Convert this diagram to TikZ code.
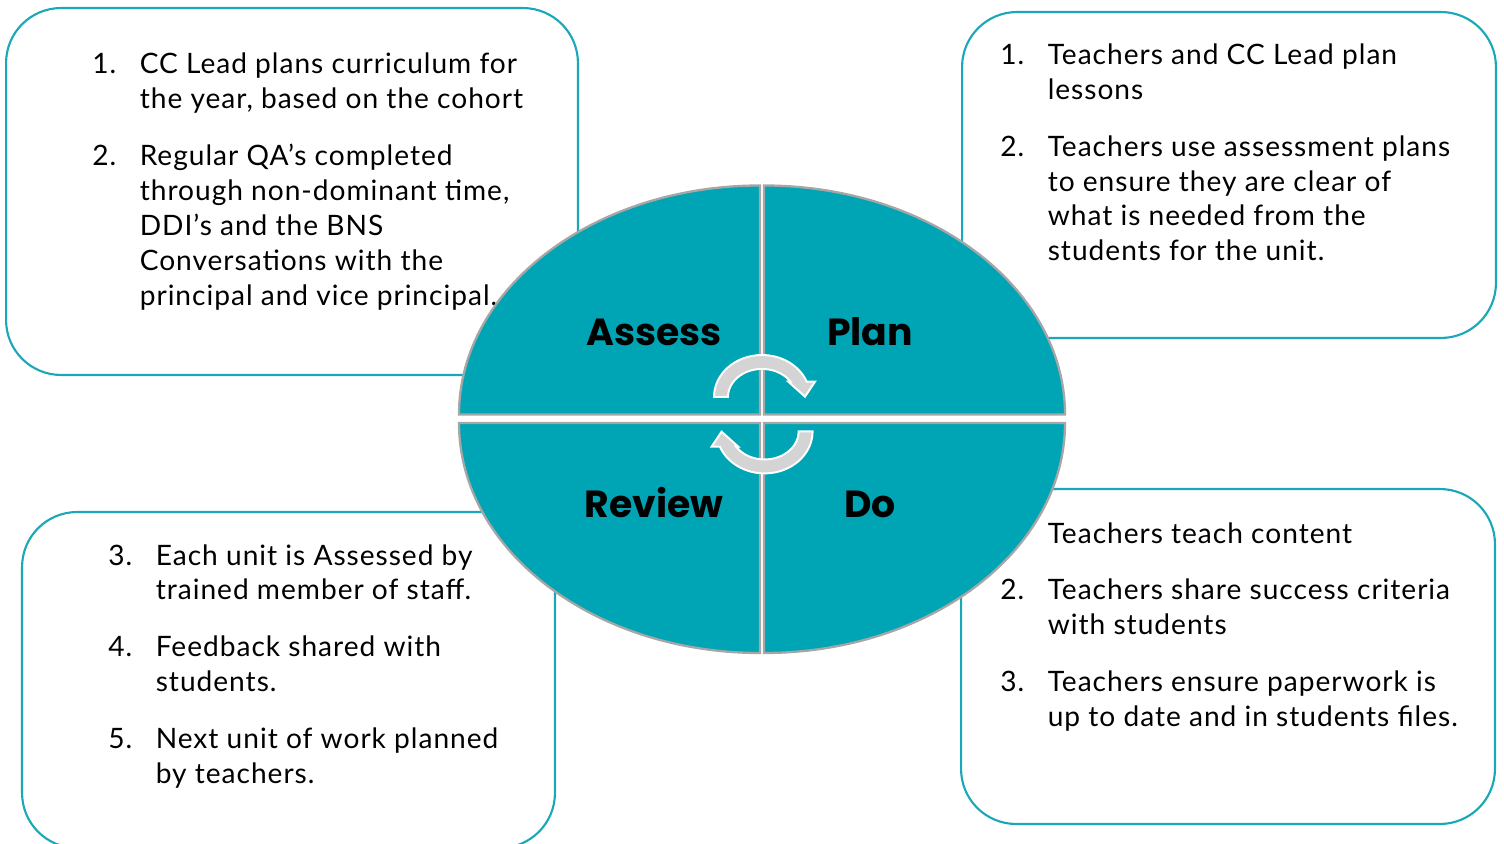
\documentclass[tikz,border=0pt]{standalone}
\usepackage{fontspec}
\setmainfont{Lato}[LetterSpace=3.5]
\newfontfamily\labelfont{Poppins}
\usepackage{tikz}
\usetikzlibrary{calc}
\definecolor{tealfill}{HTML}{00A5B5}
\definecolor{tealline}{HTML}{1AA8B9}
\definecolor{rimgray}{HTML}{A6A6A6}
\definecolor{arrowgray}{HTML}{D4D4D4}
\tikzstyle{infobox} = [rectangle, rounded corners=1.1cm, draw=tealline, line width=1.2pt, fill=white]
\tikzstyle{steps} = [anchor=base west, inner sep=0pt, font=\fontsize{16}{19.84}\selectfont]
\tikzstyle{quarter} = [fill=tealfill, draw=rimgray, line width=1.3pt]
\tikzstyle{stage} = [anchor=base, inner sep=0pt, font=\labelfont\bfseries\fontsize{21.5}{24}\selectfont]
\tikzstyle{cyclearrow} = [fill=arrowgray, draw=white, line width=1.1pt, line join=miter]
\newcommand{\gap}{\\[12.5pt]}

\begin{document}
\begin{tikzpicture}[x=0.02cm, y=-0.02cm]
    \useasboundingbox (0,0) rectangle (1504,844);

    % text boxes
    \node[infobox, minimum width=11.44cm, minimum height=7.34cm] (assessBox) at (292,191.5) {};
    \node[infobox, minimum width=10.68cm, minimum height=6.52cm] (planBox) at (1229,175) {};
    \node[infobox, minimum width=10.66cm, minimum height=6.72cm] (reviewBox) at (288.5,680) {};
    \node[infobox, minimum width=10.68cm, minimum height=6.70cm] (doBox) at (1228,656.5) {};

    \node[steps] (assessText) at (92,74) {\begin{tabular}[t]{@{}p{27pt}@{}l@{}}
        1. & CC Lead plans curriculum for\\
           & the year, based on the cohort\gap
        2. & Regular QA’s completed\\
           & through non-dominant time,\\
           & DDI’s and the BNS\\
           & Conversations with the\\
           & principal and vice principal.
    \end{tabular}};
    \node[steps] (planText) at (1000,64.5) {\begin{tabular}[t]{@{}p{27pt}@{}l@{}}
        1. & Teachers and CC Lead plan\\
           & lessons\gap
        2. & Teachers use assessment plans\\
           & to ensure they are clear of\\
           & what is needed from the\\
           & students for the unit.
    \end{tabular}};
    \node[steps] (reviewText) at (108,565) {\begin{tabular}[t]{@{}p{27pt}@{}l@{}}
        3. & Each unit is Assessed by\\
           & trained member of staff.\gap
        4. & Feedback shared with\\
           & students.\gap
        5. & Next unit of work planned\\
           & by teachers.
    \end{tabular}};
    \node[steps] (doText) at (1000,543) {\begin{tabular}[t]{@{}p{27pt}@{}l@{}}
           & Teachers teach content\gap
        2. & Teachers share success criteria\\
           & with students\gap
        3. & Teachers ensure paperwork is\\
           & up to date and in students files.
    \end{tabular}};

    % the cycle
    \draw[quarter] (760,414.5) -- ++(-301,0) arc[start angle=180, end angle=270, x radius=301, y radius=229] -- cycle;
    \draw[quarter] (764,414.5) -- ++(301,0) arc[start angle=0, end angle=-90, x radius=301, y radius=229] -- cycle;
    \draw[quarter] (760,423) -- ++(-301,0) arc[start angle=180, end angle=90, x radius=301, y radius=230] -- cycle;
    \draw[quarter] (764,423) -- ++(301,0) arc[start angle=0, end angle=90, x radius=301, y radius=230] -- cycle;

    \node[stage] (assess) at (654,346) {Assess};
    \node[stage] (plan) at (870,346) {Plan};
    \node[stage] (review) at (654,517) {Review};
    \node[stage] (do) at (870,517) {Do};

    \foreach \hx/\hy/\turn in {762/397/0, 764.6/431.4/180}
    {
        \begin{scope}[shift={(\hx,\hy)}, rotate=\turn]
            \draw[cyclearrow] (-48,0) arc[start angle=180, end angle=338.6, x radius=48, y radius=42]
                -- (53,-15.3) -- (43,-0.3) -- (26.3,-15.3) -- (28.5,-15.3)
                arc[start angle=327, end angle=180, x radius=34, y radius=28] -- cycle;
        \end{scope}
    }
\end{tikzpicture}
\end{document}
